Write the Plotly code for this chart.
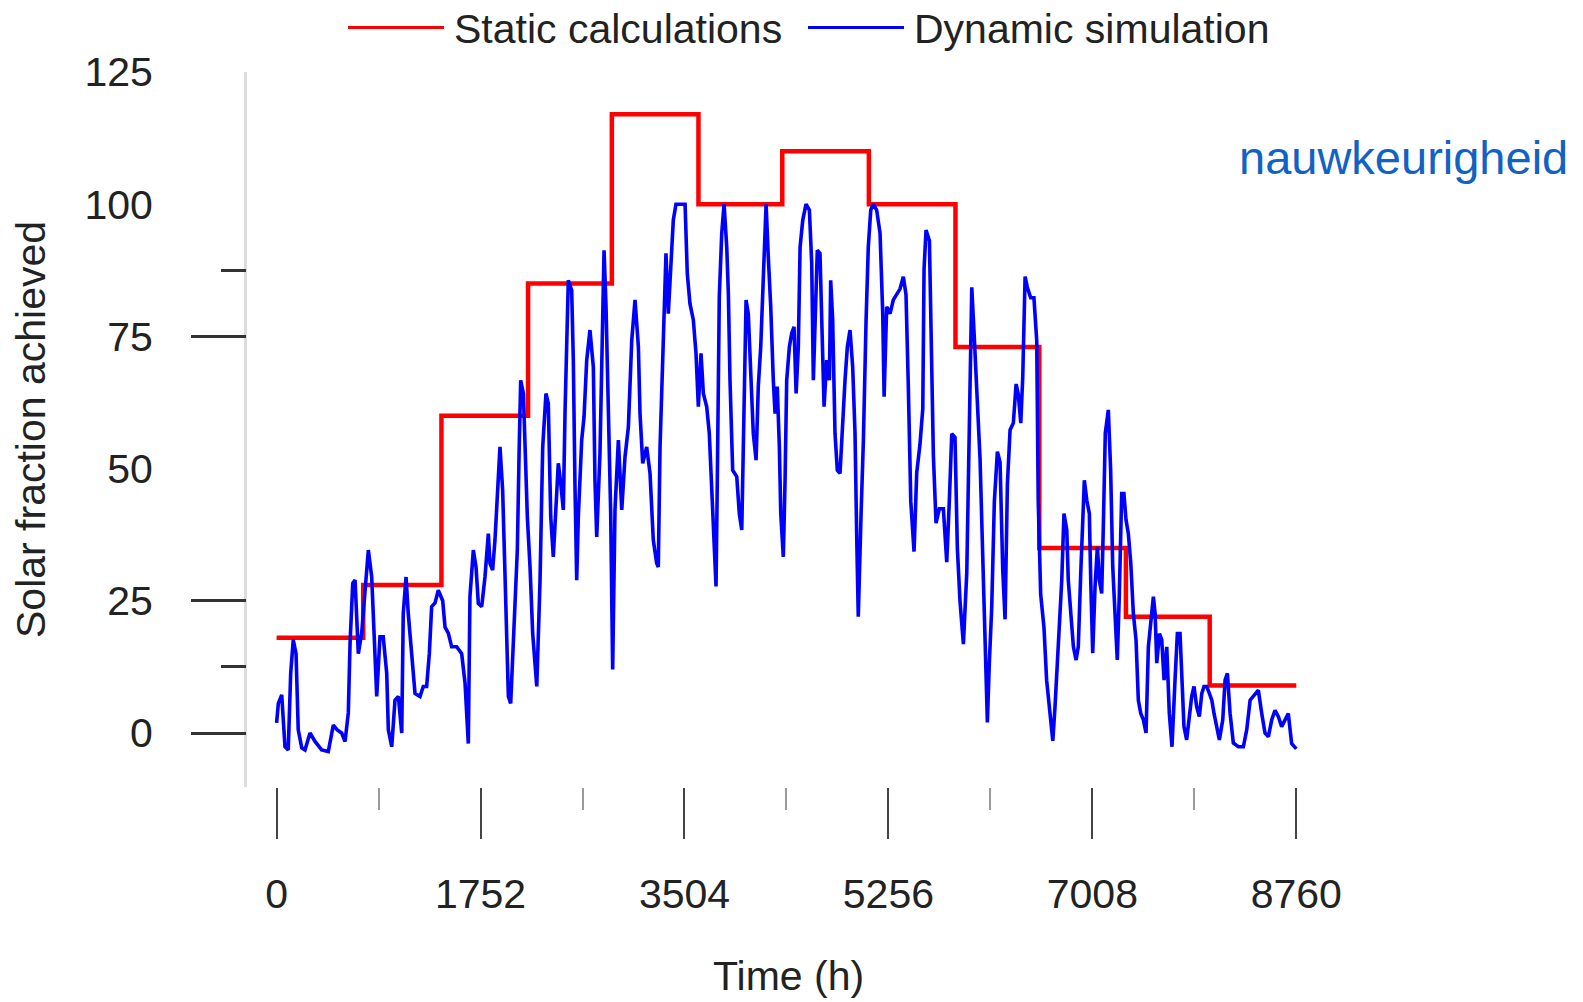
import plotly.graph_objects as go

# ---------------- data ----------------
# Static calculations: monthly steps (hour at start of each month)
static_hours = [0, 744, 1416, 2160, 2880, 3624, 4344, 5088, 5832, 6552, 7296, 8016, 8760]
static_values = [18, 28, 60, 85, 117, 100, 110, 100, 73, 35, 22, 9, 9]

# Dynamic simulation
dyn_hours_q1 = [0, 15, 44, 72, 100, 121, 143, 167, 186, 216,
                244, 287, 330, 387, 444, 487, 521, 559, 588, 616,
                631, 654, 674, 702, 731, 759, 788, 817, 845, 860,
                888, 916, 946, 960, 989, 1017, 1046, 1075, 1088, 1112,
                1131, 1161, 1189, 1232, 1260, 1289, 1312, 1332, 1361, 1389,
                1427, 1447, 1475, 1504, 1547, 1590, 1619, 1647, 1661, 1690,
                1713, 1733, 1762, 1790, 1819, 1833, 1856, 1876, 1896, 1919,
                1942, 1962, 1977, 1991, 2011, 2034, 2068, 2083, 2097, 2120,
                2134, 2154]
dyn_values_q1 = [1.9, 5.6, 7.2, -2.6, -3.2, 11.3, 17.6, 15, 0.6, -2.8,
                 -3.2, 0, -1.6, -3.2, -3.5, 1.5, 0.6, 0, -1.6, 3.8,
                 17, 28.3, 28.9, 15, 18.9, 26.5, 34.6, 29.5, 15, 6.9,
                 18.2, 18.2, 11.3, 0.6, -2.6, 6.2, 6.9, 0, 22.6, 29.5,
                 22.6, 15, 7.5, 6.9, 8.8, 8.8, 15, 23.9, 24.6, 27,
                 25, 20, 18.9, 16.3, 16.3, 15, 9.4, -2, 25.8, 34.6,
                 31.4, 24.5, 23.9, 29.5, 37.7, 32.1, 30.8, 36.5, 45.9, 54.1,
                 45.9, 31.4, 16.3, 6.9, 5.6, 18.2, 34.6, 52.9, 66.7, 64.2,
                 52.9, 40.9]

dyn_hours_q2 = [2177, 2200, 2235, 2263, 2286, 2314, 2334, 2355, 2377, 2400,
                2420, 2441, 2463, 2478, 2492, 2506, 2535, 2549, 2563, 2578,
                2592, 2621, 2641, 2664, 2692, 2721, 2735, 2750, 2778, 2802,
                2813, 2830, 2850, 2870, 2887, 2907, 2936, 2965, 2993, 3022,
                3051, 3079, 3108, 3122, 3145, 3179, 3208, 3236, 3265, 3279,
                3294, 3322, 3345, 3365, 3386, 3408, 3431, 3509, 3528, 3551,
                3580, 3603]
dyn_values_q2 = [31.4, 18.8, 8.8, 28.9, 54.1, 64.2, 62.3, 40.9, 33.3, 44,
                 51, 47.2, 42.2, 61, 77.4, 85.6, 83.7, 70.5, 47.2, 28.9,
                 40.9, 55.4, 59.8, 70.5, 76.2, 69.2, 47.8, 37.1, 52.9, 74.9,
                 91.3, 80.6, 60.4, 41.5, 12, 42.2, 55.4, 42.2, 52.2, 57.9,
                 74.3, 81.9, 73, 60.4, 51, 54.1, 49.1, 36.5, 32.1, 31.4,
                 54.1, 76.2, 90.7, 79.3, 88.1, 97, 100, 100, 86.9, 81.2,
                 78.1, 71.8]

dyn_hours_q3 = [3623, 3646, 3666, 3695, 3717, 3738, 3758, 3775, 3786, 3803,
                3824, 3844, 3867, 3881, 3895, 3918, 3953, 3975, 3996, 4010,
                4033, 4052, 4073, 4095, 4119, 4138, 4159, 4181, 4205, 4224,
                4245, 4267, 4282, 4301, 4319, 4331, 4353, 4368, 4382, 4405,
                4425, 4445, 4463, 4482, 4497, 4520, 4548, 4577, 4597, 4611,
                4626, 4645, 4668, 4692, 4703, 4726, 4749, 4760, 4777, 4797,
                4817, 4840, 4863, 4883, 4903, 4926, 4949, 4969, 4984, 4997,
                5021, 5041, 5064, 5083]
dyn_values_q3 = [61.7, 71.8, 64.2, 61.7, 56.7, 44.7, 35.2, 27.7, 47.8, 82.5,
                 94.5, 100, 91.9, 83.1, 66.7, 49.7, 48.5, 41.5, 38.4, 57.3,
                 81.9, 79.3, 66.7, 56.7, 51.6, 65.5, 73, 85.6, 100, 90,
                 80.6, 66.7, 60.4, 65.5, 54.1, 41.5, 33.3, 47.8, 66.7, 73,
                 75.6, 76.8, 64.2, 73, 91.9, 97, 100, 98.9, 88.8, 66.7,
                 80.6, 91.3, 90.7, 74.3, 61.7, 70.5, 66.7, 85.6, 78.1, 56.7,
                 49.7, 49.1, 59.2, 66.7, 73, 76.2, 69.2, 56.7, 36.5, 22,
                 41.5, 55.4, 78.1, 91.9]

dyn_hours_q4 = [5104, 5126, 5155, 5184, 5207, 5219, 5241, 5270, 5298, 5327,
                5356, 5384, 5407, 5427, 5448, 5476, 5499, 5527, 5551, 5562,
                5579, 5608, 5628, 5642, 5665, 5693, 5728, 5757, 5779, 5800,
                5828, 5848, 5871, 5900, 5929, 5951, 5972, 5992, 6020, 6043,
                6066, 6086, 6106, 6123, 6143, 6166, 6192, 6215, 6238, 6258,
                6278, 6301, 6329, 6353, 6372, 6393, 6410, 6430, 6449, 6478,
                6506, 6530]
dyn_values_q4 = [98.9, 100, 98.9, 94.5, 79.3, 63.6, 80.6, 79.3, 81.9, 83.1,
                 84, 86.3, 82.9, 65.4, 43.8, 34.3, 49.2, 54.6, 61.3, 87.7,
                 95.1, 93.1, 73.5, 52.6, 39.7, 42.4, 42.4, 32.3, 43.8, 56.6,
                 55.9, 35, 24.9, 16.8, 30.3, 57.3, 84.3, 75.5, 64, 51.9,
                 33.6, 18.1, 2, 13.4, 23.5, 43.8, 53.2, 51.2, 30.9, 21.5,
                 47.1, 57.3, 58.6, 66, 64, 58.6, 67.4, 86.3, 84.3, 82.3,
                 82.3, 74.2]

dyn_hours_q5 = [6543, 6564, 6592, 6615, 6644, 6668, 6687, 6707, 6724, 6745,
                6764, 6788, 6801, 6822, 6845, 6868, 6887, 6908, 6925, 6939,
                6960, 6982, 6994, 7011, 7031, 7051, 7068, 7088, 7102, 7119,
                7145, 7165, 7183, 7202, 7222, 7239, 7260, 7279, 7297, 7317,
                7338, 7360, 7383, 7403, 7424, 7446, 7469, 7489, 7510, 7532,
                7547, 7561, 7584, 7604, 7624, 7647, 7669, 7692, 7718, 7738,
                7761, 7775, 7795, 7818, 7841, 7861, 7881, 7904, 7927, 7948,
                7967, 7990, 8013, 8034, 8053, 8076, 8099, 8128, 8148, 8168,
                8191, 8219, 8262, 8305, 8334, 8363, 8391, 8434, 8463, 8491,
                8520, 8549, 8577, 8606, 8634, 8663, 8691, 8720, 8760]
dyn_values_q5 = [43.8, 26.2, 20, 10, 4, -1.5, 5, 13.2, 18.8, 28.9,
                 41.5, 38.4, 28.9, 22.6, 16.3, 13.8, 16.3, 30.2, 41.5, 47.8,
                 44, 41.5, 28.9, 15.1, 27.7, 35.2, 28.9, 26.4, 39, 56.7,
                 61.1, 49.7, 31.4, 22.6, 13.8, 25.8, 45.3, 45.3, 40.3, 37.7,
                 32.1, 22.6, 17.6, 6.2, 3.7, 2.5, 0, 16.3, 21.4, 25.8,
                 22.6, 13.2, 18.8, 17.6, 10, 16.3, 3.7, -2.6, 10, 18.8,
                 18.8, 11.3, 1.2, -1.3, 3.7, 6.9, 8.8, 5, 3.1, 7.5,
                 8.8, 8.8, 7.5, 6.2, 3.7, 1.2, -1.3, 2.5, 10, 11.3,
                 3.7, -1.9, -2.6, -2.6, 0.6, 6.2, 6.9, 8.1, 3.7, 0,
                 -0.7, 2.5, 4.3, 3.1, 1.2, 2.5, 3.7, -2, -3]

x_major_ticks = [0, 1752, 3504, 5256, 7008, 8760]
x_minor_ticks = [876, 2628, 4380, 6132, 7884]
y_label_ticks = [0, 25, 50, 75, 100, 125]
y_mark_ticks = [0, 25, 75]
y_minor_ticks = [12.5, 87.5]

dyn_hours = dyn_hours_q1 + dyn_hours_q2 + dyn_hours_q3 + dyn_hours_q4 + dyn_hours_q5
dyn_values = dyn_values_q1 + dyn_values_q2 + dyn_values_q3 + dyn_values_q4 + dyn_values_q5
assert len(dyn_hours) == len(dyn_values)

# ---------------- figure ----------------
W, H = 1583, 1002
L, R, T, B = 247, 1326, 72, 787   # plot area in pixels
FONT = "Liberation Sans, Arial, sans-serif"
FS = 41


def px(xp):
    return (xp - L) / (R - L)


def py(yp):
    return (B - yp) / (B - T)


fig = go.Figure()
fig.add_trace(go.Scatter(x=static_hours, y=static_values, mode="lines",
                         line=dict(color="#ff0000", width=4.5, shape="hv"),
                         name="Static calculations", yaxis="y"))
fig.add_trace(go.Scatter(x=dyn_hours, y=dyn_values, mode="lines",
                         line=dict(color="#0000ff", width=3.6),
                         name="Dynamic simulation", yaxis="y2"))

x_range = [-254.3, 9015]
y_range = [-10.21, 125]

fig.update_layout(
    width=W, height=H, autosize=False,
    margin=dict(l=L, r=W - R, t=T, b=H - B, pad=0),
    paper_bgcolor="white", plot_bgcolor="white",
    showlegend=False,
    font=dict(family=FONT, size=FS, color="#222222"),
    xaxis=dict(range=x_range, tickmode="array", tickvals=x_major_ticks,
               ticktext=[str(v) for v in x_major_ticks],
               ticks="outside", ticklen=51, tickwidth=2.2, tickcolor="#444444",
               showline=False, showgrid=False, zeroline=False,
               ticklabelstandoff=20,
               tickfont=dict(family=FONT, size=FS, color="#222222"),
               minor=dict(tickmode="array", tickvals=x_minor_ticks, ticks="outside",
                          ticklen=22, tickwidth=2, tickcolor="#9a9a9a", showgrid=False)),
    yaxis=dict(range=y_range, tickmode="array", tickvals=y_label_ticks,
               ticks="", showline=True, linecolor="#dcdcdc", linewidth=3,
               showgrid=False, zeroline=False, ticklabelstandoff=83,
               tickfont=dict(family=FONT, size=FS, color="#222222")),
    yaxis2=dict(range=y_range, overlaying="y", side="left", anchor="x",
                tickmode="array", tickvals=y_mark_ticks, showticklabels=False,
                ticks="outside", ticklen=55, tickwidth=2.5, tickcolor="#333333",
                showline=False, showgrid=False, zeroline=False,
                minor=dict(tickmode="array", tickvals=y_minor_ticks, ticks="outside",
                           ticklen=25, tickwidth=2.5, tickcolor="#333333", showgrid=False)),
)

# Legend drawn as line samples + labels at the top
legend_y = py(27.5)
fig.add_shape(type="line", xref="paper", yref="paper", x0=px(348), x1=px(444),
              y0=legend_y, y1=legend_y, line=dict(color="#ff0000", width=3))
fig.add_shape(type="line", xref="paper", yref="paper", x0=px(808), x1=px(904),
              y0=legend_y, y1=legend_y, line=dict(color="#0000ff", width=3))

annotations = [
    dict(text="Static calculations", x=px(452), y=py(29), xanchor="left", yanchor="middle"),
    dict(text="Dynamic simulation", x=px(912), y=py(29), xanchor="left", yanchor="middle"),
    dict(text="Time (h)", x=px(788), y=py(976), xanchor="center", yanchor="middle"),
    dict(text="Solar fraction achieved", x=px(31), y=py(430), xanchor="center",
         yanchor="middle", textangle=-90),
]
for a in annotations:
    fig.add_annotation(xref="paper", yref="paper", showarrow=False,
                       font=dict(family=FONT, size=FS, color="#222222"), **a)

fig.add_annotation(text="nauwkeurigheid", xref="paper", yref="paper",
                   x=px(1237), y=py(158), xanchor="left", yanchor="middle",
                   showarrow=False,
                   font=dict(family=FONT, size=47, color="#1262c4"))

fig.write_html("out.html")
